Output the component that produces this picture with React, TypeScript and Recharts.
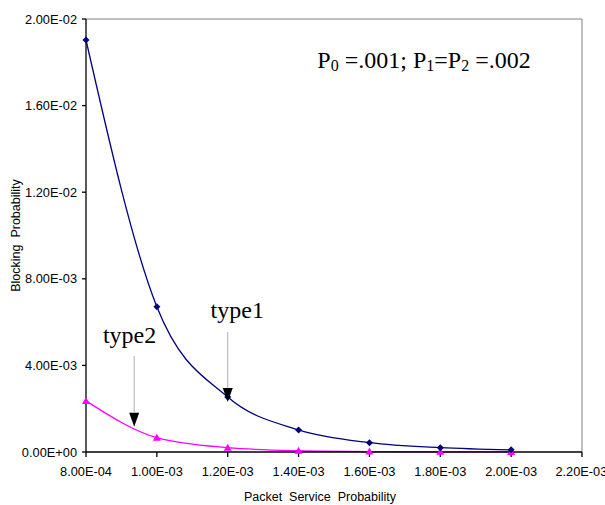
import {
  LineChart,
  Line,
  XAxis,
  YAxis,
  ReferenceLine,
  ReferenceDot,
} from 'recharts'

// packet service probability (x)
const serviceProb = [0.0008, 0.001, 0.0012, 0.0014, 0.0016, 0.0018, 0.002]
// blocking probability per traffic type
const type1Blocking = [0.01903, 0.00671, 0.00254, 0.00102, 0.00043, 0.0002, 0.0001]
const type2Blocking = [0.00236, 0.00066, 0.0002, 0.00006, 0.00002, 0.00001, 0.000005]

const xTicks = [0.0008, 0.001, 0.0012, 0.0014, 0.0016, 0.0018, 0.002, 0.0022]
const yTicks = [0, 0.004, 0.008, 0.012, 0.016, 0.02]

// arrow annotations: label position, line start/end, arrow tip
const arrows = [
  { name: 'type1', x: 0.0012, textX: 0.001227, textY: 0.00619, from: 0.00554, to: 0.00296, tip: 0.00231 },
  { name: 'type2', x: 0.000936, textX: 0.000923, textY: 0.00503, from: 0.00443, to: 0.00182, tip: 0.00117 },
]

const data = serviceProb.map((x, i) => ({
  x,
  type1: type1Blocking[i],
  type2: type2Blocking[i],
}))

const sci = (v: number) => {
  if (v === 0) return '0.00E+00'
  const e = Math.floor(Math.log10(Math.abs(v)) + 1e-9)
  const m = v / Math.pow(10, e)
  return `${m.toFixed(2)}E${e < 0 ? '-' : '+'}${String(Math.abs(e)).padStart(2, '0')}`
}

const tickStyle = {
  fontSize: 12.8,
  fill: '#000',
  fontFamily: 'Liberation Sans, Arial, sans-serif',
}
const serif = 'Liberation Serif, Times New Roman, serif'

const Diamond = (p: any) => {
  const { cx, cy } = p
  if (cx == null || cy == null) return <g />
  return <path d={`M${cx},${cy - 3.5}L${cx + 3.5},${cy}L${cx},${cy + 3.5}L${cx - 3.5},${cy}Z`} fill="#000080" />
}

const Triangle = (p: any) => {
  const { cx, cy } = p
  if (cx == null || cy == null) return <g />
  return <path d={`M${cx},${cy - 4}L${cx + 4},${cy + 3}L${cx - 4},${cy + 3}Z`} fill="#FF00FF" />
}

export default function App() {
  return (
    <div style={{ position: 'absolute', left: 0, top: 0, background: '#fff' }}>
      <LineChart width={605} height={505} data={data} margin={{ top: 19, right: 23, left: 0, bottom: 0 }}>
        <XAxis
          dataKey="x"
          type="number"
          domain={[0.0008, 0.0022]}
          ticks={xTicks}
          tickFormatter={sci}
          tick={tickStyle}
          tickSize={5}
          tickMargin={10}
          height={53}
          stroke="#000"
          strokeWidth={1.3}
          label={{
            content: (props: any) => {
              const vb = props.viewBox || {}
              return (
                <text
                  x={vb.x + vb.width / 2 - 14}
                  y={vb.y + 49}
                  textAnchor="middle"
                  style={{ whiteSpace: 'pre' }}
                  fontSize={12.5}
                  fontFamily={tickStyle.fontFamily}
                  fill="#000"
                >
                  Packet  Service  Probability
                </text>
              )
            },
          }}
        />
        <YAxis
          type="number"
          domain={[0, 0.02]}
          ticks={yTicks}
          tickFormatter={sci}
          tick={tickStyle}
          tickSize={4}
          tickMargin={5}
          width={86}
          stroke="#000"
          strokeWidth={1.3}
          label={{
            content: (props: any) => {
              const vb = props.viewBox || {}
              const cy = vb.y + vb.height / 2
              return (
                <text
                  x={16}
                  y={cy}
                  transform={`rotate(-90, 16, ${cy})`}
                  textAnchor="middle"
                  dominantBaseline="central"
                  style={{ whiteSpace: 'pre' }}
                  fontSize={12.5}
                  fontFamily={tickStyle.fontFamily}
                  fill="#000"
                >
                  Blocking  Probability
                </text>
              )
            },
          }}
        />
        {/* plot frame */}
        <ReferenceLine y={0.02} stroke="#808080" />
        <ReferenceLine x={0.0022} stroke="#808080" />

        <Line
          type="monotone"
          dataKey="type2"
          stroke="#FF00FF"
          strokeWidth={1.3}
          dot={<Triangle />}
          activeDot={false}
          isAnimationActive={false}
        />
        <Line
          type="monotone"
          dataKey="type1"
          stroke="#000080"
          strokeWidth={1.3}
          dot={<Diamond />}
          activeDot={false}
          isAnimationActive={false}
        />

        {arrows.map((a) => (
          <ReferenceLine
            key={a.name + '-line'}
            segment={[
              { x: a.x, y: a.from },
              { x: a.x, y: a.to },
            ]}
            stroke="#b0b0b0"
            strokeWidth={1}
          />
        ))}
        {arrows.map((a) => (
          <ReferenceDot
            key={a.name + '-tip'}
            x={a.x}
            y={a.tip}
            shape={(p: any) => (
              <path d={`M${p.cx},${p.cy}L${p.cx - 5},${p.cy - 14}L${p.cx + 5},${p.cy - 14}Z`} fill="#000" />
            )}
          />
        ))}
        {arrows.map((a) => (
          <ReferenceDot
            key={a.name + '-text'}
            x={a.textX}
            y={a.textY}
            shape={(p: any) => (
              <text x={p.cx} y={p.cy} textAnchor="middle" fontFamily={serif} fontSize={24} fill="#000">
                {a.name}
              </text>
            )}
          />
        ))}
        <ReferenceDot
          x={0.001453}
          y={0.01775}
          shape={(p: any) => (
            <text x={p.cx} y={p.cy} fontFamily={serif} fontSize={24} fill="#000">
              <tspan>P</tspan>
              <tspan fontSize={16} dy={3}>0</tspan>
              <tspan dy={-3}> =.001; P</tspan>
              <tspan fontSize={16} dy={3}>1</tspan>
              <tspan dy={-3}>=P</tspan>
              <tspan fontSize={16} dy={3}>2</tspan>
              <tspan dy={-3}> =.002</tspan>
            </text>
          )}
        />
      </LineChart>
    </div>
  )
}
